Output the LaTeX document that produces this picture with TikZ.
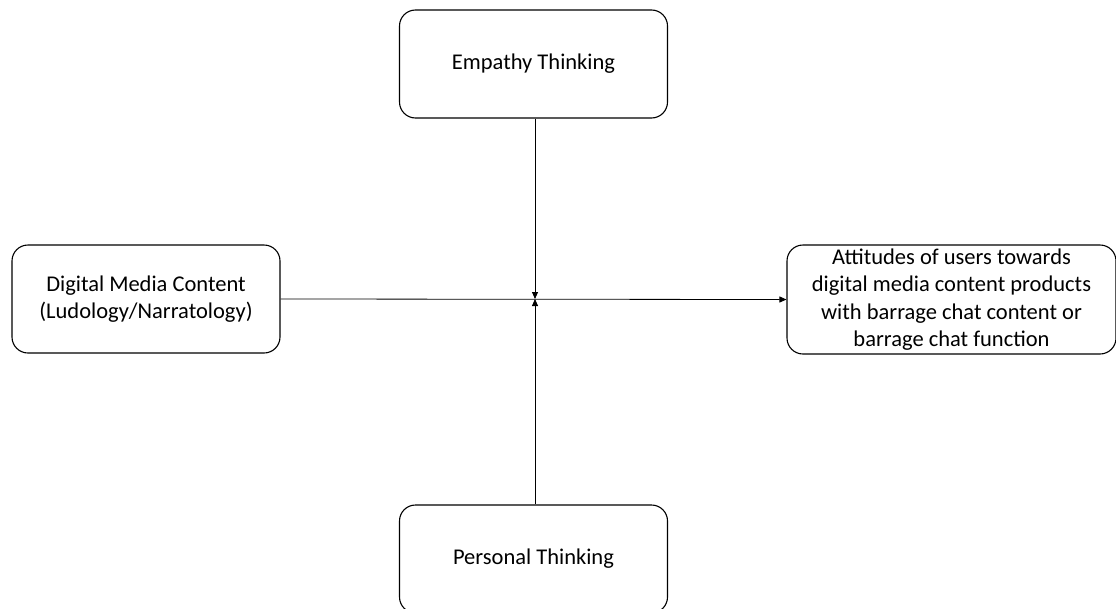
\documentclass[tikz,border=0pt]{standalone}
\usepackage{fontspec}
\setmainfont{Carlito}
\usetikzlibrary{arrows.meta}
\begin{document}
\begin{tikzpicture}[x=1pt,y=-1pt,
  box/.style={draw=black,line width=1.1pt,rounded corners=16pt,minimum width=268pt,minimum height=108pt,align=center,inner sep=0pt,font=\fontsize{22.5}{27.5}\selectfont},
  conn/.style={line width=0.8pt,-{Triangle[length=7pt,width=6pt]}}]
\useasboundingbox (0,0) rectangle (1116,608);
\clip (0,0) rectangle (1116,608);
\node[box] (emp) at (533.5,64) {Empathy Thinking};
\node[box,minimum width=268pt] (dig) at (146,299) {Digital Media Content\\(Ludology/Narratology)};
\node[box,minimum width=329pt,minimum height=109pt] (att) at (951.5,299.5) {Attitudes of users towards\\digital media content products\\with barrage chat content or\\barrage chat function};
\node[box] (per) at (533.5,559) {Personal Thinking};
\coordinate (j) at (535,299);
\draw[conn] (dig.east) -- (att.west);
\draw[conn] (emp.south -| j) -- (j);
\draw[conn] (per.north -| j) -- (j);
\end{tikzpicture}
\end{document}
